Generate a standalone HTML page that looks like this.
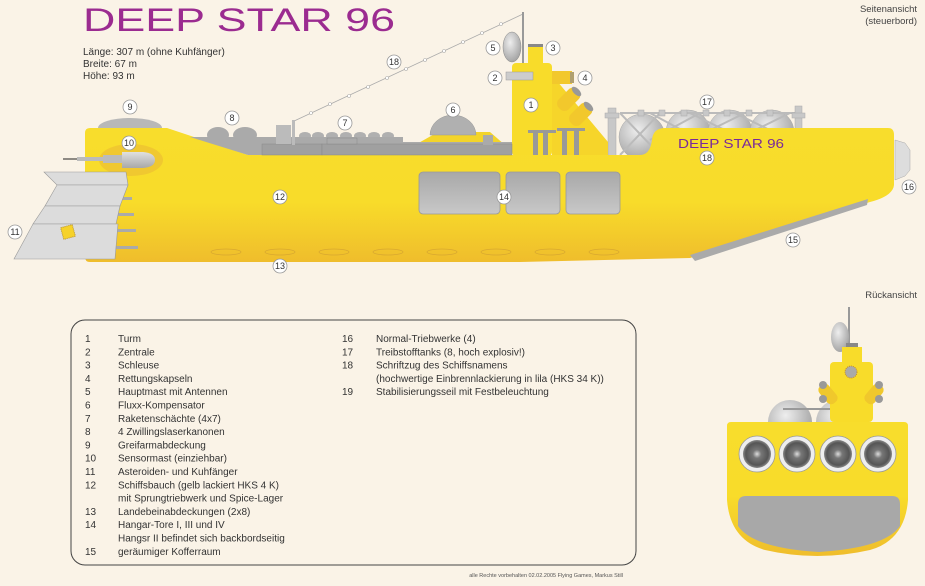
<!DOCTYPE html>
<html><head><meta charset="utf-8"><style>
html,body{margin:0;padding:0;background:#faf3e7;}
svg{display:block;font-family:"Liberation Sans",sans-serif;}
.n{fill:#fff;stroke:#999;stroke-width:0.8}
.nt{font-size:9px;fill:#333;text-anchor:middle}
.lg{font-size:10px;fill:#333}
</style></head><body>
<svg width="925" height="586" viewBox="0 0 925 586" xmlns="http://www.w3.org/2000/svg">
<defs>
<linearGradient id="hy" x1="0" y1="0" x2="0" y2="1">
<stop offset="0" stop-color="#f8dd2c"/><stop offset="0.55" stop-color="#f8dc2a"/><stop offset="1" stop-color="#efbd2c"/></linearGradient>
<linearGradient id="gd" x1="0" y1="0" x2="0" y2="1">
<stop offset="0" stop-color="#e0e0e0"/><stop offset="1" stop-color="#a8a8a8"/></linearGradient>
<radialGradient id="sp" cx="0.4" cy="0.35" r="0.7"><stop offset="0" stop-color="#eee"/><stop offset="1" stop-color="#a0a0a0"/></radialGradient>
<radialGradient id="en" cx="0.5" cy="0.5" r="0.5"><stop offset="0" stop-color="#ddd"/><stop offset="0.3" stop-color="#777"/><stop offset="0.8" stop-color="#555"/><stop offset="1" stop-color="#888"/></radialGradient>
<linearGradient id="rp" x1="0" y1="0" x2="0" y2="1"><stop offset="0" stop-color="#a8a8a8"/><stop offset="1" stop-color="#c8c8c8"/></linearGradient>
</defs>
<rect width="925" height="586" fill="#faf3e7"/>

<text x="83" y="31" font-size="32" fill="#9b2b90" textLength="312" lengthAdjust="spacingAndGlyphs">DEEP STAR 96</text>
<text x="83" y="55" font-size="10" fill="#333">Länge: 307 m (ohne Kuhfänger)</text>
<text x="83" y="67" font-size="10" fill="#333">Breite: 67 m</text>
<text x="83" y="79" font-size="10" fill="#333">Höhe: 93 m</text>
<text x="917" y="12" font-size="9.5" fill="#444" text-anchor="end">Seitenansicht</text>
<text x="917" y="24" font-size="9.5" fill="#444" text-anchor="end">(steuerbord)</text>
<text x="917" y="298" font-size="9.5" fill="#444" text-anchor="end">Rückansicht</text>

<!-- rope -->
<line x1="523" y1="14" x2="292" y2="122" stroke="#aaa" stroke-width="0.8"/>
<g fill="#fff" stroke="#aaa" stroke-width="0.6">
<circle cx="501" cy="24" r="1.5"/><circle cx="482" cy="33" r="1.5"/><circle cx="463" cy="42" r="1.5"/><circle cx="444" cy="51" r="1.5"/><circle cx="425" cy="60" r="1.5"/><circle cx="406" cy="69" r="1.5"/><circle cx="387" cy="78" r="1.5"/><circle cx="368" cy="87" r="1.5"/><circle cx="349" cy="96" r="1.5"/><circle cx="330" cy="104" r="1.5"/><circle cx="311" cy="113" r="1.5"/></g>
<line x1="523" y1="12" x2="523" y2="155" stroke="#999" stroke-width="2"/>
<!-- dish -->
<ellipse cx="512" cy="47" rx="9" ry="15" fill="url(#sp)" stroke="#888" stroke-width="0.5"/>

<!-- back-deck items -->
<ellipse cx="130" cy="128" rx="32" ry="10" fill="#b8b8b8"/>
<ellipse cx="218" cy="135" rx="11" ry="8" fill="#aaa"/><ellipse cx="245" cy="135" rx="12" ry="8" fill="#aaa"/>
<g fill="#b0b0b0"><ellipse cx="305" cy="136" rx="6" ry="4"/><ellipse cx="318" cy="136" rx="6" ry="4"/><ellipse cx="332" cy="136" rx="6" ry="4"/><ellipse cx="346" cy="136" rx="6" ry="4"/><ellipse cx="360" cy="136" rx="6" ry="4"/><ellipse cx="374" cy="136" rx="6" ry="4"/><ellipse cx="388" cy="136" rx="6" ry="4"/></g>
<path d="M415 145 L438 132 L490 132 L505 145 Z" fill="#f3d42a"/>
<path d="M430 135 A23 20 0 0 1 476 135 Z" fill="#b0b0b0" stroke="#999" stroke-width="0.5"/>
<!-- tanks -->
<g stroke="#aaa" stroke-width="0.5">
<circle cx="688" cy="132" r="22" fill="url(#sp)"/><circle cx="730" cy="132" r="22" fill="url(#sp)"/><circle cx="772" cy="132" r="22" fill="url(#sp)"/><circle cx="642" cy="137" r="23" fill="url(#sp)"/></g>
<path d="M620 113 L800 113 M620 113 L660 155 M660 113 L620 155 M650 113 L700 140 M700 113 L650 140 M690 113 L745 140 M745 113 L690 140 M735 113 L790 140 M790 113 L735 140" stroke="#bbb" stroke-width="2" fill="none"/>
<g fill="#c8c8c8" stroke="#aaa" stroke-width="0.5">
<rect x="608" y="108" width="8" height="48"/><rect x="605" y="113" width="14" height="5"/>
<rect x="795" y="106" width="7" height="30"/><rect x="792" y="113" width="13" height="5"/>
<rect x="638" y="110" width="6" height="6"/><rect x="659" y="110" width="6" height="6"/><rect x="681" y="110" width="6" height="6"/><rect x="703" y="110" width="6" height="6"/><rect x="724" y="110" width="6" height="6"/><rect x="746" y="110" width="6" height="6"/><rect x="767" y="110" width="6" height="6"/></g>

<!-- tower -->
<path d="M552 75 L608 142 L608 156 L552 156 Z" fill="#f6d52a"/>
<rect x="528" y="44" width="15" height="4" fill="#888"/>
<rect x="528" y="47" width="15" height="20" fill="#f8dc2a"/>
<rect x="512" y="63" width="40" height="93" rx="4" fill="#f8dc2a"/>
<rect x="506" y="72" width="27" height="8" fill="#ccc" stroke="#999" stroke-width="0.5"/>
<rect x="552" y="71" width="20" height="13" fill="#f2c82c"/>
<rect x="570" y="72" width="4" height="11" fill="#b0a070"/>
<g transform="rotate(-45 568 100)"><rect x="556" y="93" width="26" height="14" rx="6" fill="#f2c82c"/><ellipse cx="580" cy="100" rx="3" ry="6" fill="#999"/></g>
<g transform="rotate(-45 580 115)"><rect x="568" y="108" width="26" height="14" rx="6" fill="#f2c82c"/><ellipse cx="592" cy="115" rx="3" ry="6" fill="#999"/></g>

<!-- hull -->
<path d="M85 133 Q85 128 90 128 L167 128 L248 155 L640 155 Q650 155 652 140 Q653 128 665 128 L888 128 Q894 128 894 135 L894 185 Q893 196 870 202 L690 258 L520 262 L90 262 Q85 262 85 257 Z" fill="url(#hy)"/>
<!-- deck gray -->
<path d="M190 137 L403 137 L403 142 L512 142 L512 155 L248 155 Z" fill="#aaa"/>
<rect x="262" y="144" width="60" height="11" fill="#a0a0a0" stroke="#888" stroke-width="0.5"/>
<rect x="322" y="144" width="190" height="11" fill="#a0a0a0" stroke="#888" stroke-width="0.5"/>
<rect x="276" y="125" width="15" height="19" fill="#bbb"/><rect x="292" y="120" width="3" height="25" fill="#bbb"/>
<rect x="327" y="138" width="30" height="6" fill="#aaa" stroke="#888" stroke-width="0.5"/>
<rect x="483" y="135" width="10" height="10" fill="#aaa"/>
<rect x="528" y="130" width="28" height="3" fill="#999"/><rect x="533" y="133" width="5" height="22" fill="#999"/><rect x="543" y="133" width="5" height="22" fill="#999"/>
<rect x="557" y="128" width="28" height="3" fill="#999"/><rect x="562" y="131" width="5" height="24" fill="#999"/><rect x="574" y="131" width="5" height="24" fill="#999"/>
<!-- sensor -->
<ellipse cx="131" cy="160" rx="32" ry="16" fill="#f0c830"/>
<line x1="63" y1="159" x2="78" y2="159" stroke="#222" stroke-width="1"/>
<rect x="77" y="157" width="28" height="4" fill="#bbb"/>
<rect x="103" y="155" width="20" height="8" fill="#bbb"/>
<path d="M122 152 L143 152 Q155 153 155 160 Q155 167 143 168 L122 168 Z" fill="url(#gd)"/>
<!-- hangars -->
<g fill="url(#rp)" stroke="#999" stroke-width="0.8">
<rect x="419" y="172" width="81" height="42" rx="4"/><rect x="506" y="172" width="54" height="42" rx="4"/><rect x="566" y="172" width="54" height="42" rx="4"/></g>
<!-- landing ovals -->
<g fill="none" stroke="#d8a830" stroke-width="0.8">
<ellipse cx="226" cy="252" rx="15" ry="3"/><ellipse cx="280" cy="252" rx="15" ry="3"/><ellipse cx="334" cy="252" rx="15" ry="3"/><ellipse cx="388" cy="252" rx="15" ry="3"/><ellipse cx="442" cy="252" rx="15" ry="3"/><ellipse cx="496" cy="252" rx="15" ry="3"/><ellipse cx="550" cy="252" rx="15" ry="3"/><ellipse cx="604" cy="252" rx="15" ry="3"/></g>
<!-- cargo -->
<path d="M690 255 L868 199 L867 205 L695 261 Z" fill="#aaa"/>
<!-- nozzle -->
<path d="M895 140 L905 143 L910 150 L910 170 L905 176 L895 180 Z" fill="#ddd" stroke="#aaa" stroke-width="0.5"/>
<text x="731" y="148" font-size="13" fill="#7a2a9a" text-anchor="middle" textLength="106" lengthAdjust="spacingAndGlyphs">DEEP STAR 96</text>
<!-- cow catcher -->
<g fill="#aaa"><rect x="112" y="197" width="20" height="3"/><rect x="112" y="213" width="22" height="3"/><rect x="110" y="229" width="26" height="3"/><rect x="108" y="246" width="30" height="3"/></g>
<g fill="#dcdcdc" stroke="#999" stroke-width="0.6">
<path d="M44 172 L126 172 L128 185 L57 185 Z"/>
<path d="M57 185 L128 185 L120 206 L45 206 Z"/>
<path d="M45 206 L120 206 L116 224 L33 224 Z"/>
<path d="M33 224 L118 224 L115 259 L14 259 Z"/></g>
<rect x="62" y="226" width="12" height="12" fill="#f6d22a" stroke="#b89020" stroke-dasharray="1 1" transform="rotate(-15 68 232)"/>

<!-- number labels -->
<g>
<circle class="n" cx="130" cy="107" r="7"/><text class="nt" x="130" y="110">9</text>
<circle class="n" cx="232" cy="118" r="7"/><text class="nt" x="232" y="121">8</text>
<circle class="n" cx="345" cy="123" r="7"/><text class="nt" x="345" y="126">7</text>
<circle class="n" cx="453" cy="110" r="7"/><text class="nt" x="453" y="113">6</text>
<circle class="n" cx="129" cy="143" r="7"/><text class="nt" x="129" y="146">10</text>
<circle class="n" cx="280" cy="197" r="7"/><text class="nt" x="280" y="200">12</text>
<circle class="n" cx="15" cy="232" r="7"/><text class="nt" x="15" y="235">11</text>
<circle class="n" cx="280" cy="266" r="7"/><text class="nt" x="280" y="269">13</text>
<circle class="n" cx="394" cy="62" r="7"/><text class="nt" x="394" y="65">18</text>
<circle class="n" cx="493" cy="48" r="7"/><text class="nt" x="493" y="51">5</text>
<circle class="n" cx="553" cy="48" r="7"/><text class="nt" x="553" y="51">3</text>
<circle class="n" cx="495" cy="78" r="7"/><text class="nt" x="495" y="81">2</text>
<circle class="n" cx="585" cy="78" r="7"/><text class="nt" x="585" y="81">4</text>
<circle class="n" cx="531" cy="105" r="7"/><text class="nt" x="531" y="108">1</text>
<circle class="n" cx="707" cy="102" r="7"/><text class="nt" x="707" y="105">17</text>
<circle class="n" cx="707" cy="158" r="7"/><text class="nt" x="707" y="161">18</text>
<circle class="n" cx="504" cy="197" r="7"/><text class="nt" x="504" y="200">14</text>
<circle class="n" cx="909" cy="187" r="7"/><text class="nt" x="909" y="190">16</text>
<circle class="n" cx="793" cy="240" r="7"/><text class="nt" x="793" y="243">15</text>
</g>

<!-- rear view -->
<line x1="849" y1="307" x2="849" y2="350" stroke="#999" stroke-width="2"/>
<ellipse cx="840" cy="337" rx="9" ry="15" fill="url(#sp)"/>
<circle cx="790" cy="422" r="22" fill="url(#sp)"/><circle cx="838" cy="422" r="22" fill="url(#sp)"/>
<rect x="783" y="408" width="50" height="2" fill="#999"/>
<rect x="846" y="343" width="12" height="4" fill="#888"/>
<rect x="842" y="347" width="20" height="20" fill="#f8dc2a"/>
<rect x="830" y="362" width="43" height="60" rx="4" fill="#f8dc2a"/>
<circle cx="851" cy="372" r="6" fill="#aaa" stroke="#c89020" stroke-dasharray="1 1"/>
<rect x="822" y="383" width="12" height="22" rx="5" fill="#f0c82c" transform="rotate(-40 828 394)"/>
<rect x="868" y="383" width="12" height="22" rx="5" fill="#f0c82c" transform="rotate(40 874 394)"/>
<circle cx="823" cy="385" r="4" fill="#999"/><circle cx="823" cy="399" r="4" fill="#999"/>
<circle cx="879" cy="385" r="4" fill="#999"/><circle cx="879" cy="399" r="4" fill="#999"/>
<path d="M727 426 Q727 422 731 422 L904 422 Q908 422 908 426 L908 500 Q905 540 870 550 Q817 562 765 550 Q730 540 727 500 Z" fill="url(#hy)"/>
<path d="M738 504 Q738 496 746 496 L892 496 Q900 496 900 504 L900 526 Q885 548 819 552 Q753 548 738 526 Z" fill="#a8a8a8"/>
<g stroke="#999" stroke-width="0.8">
<circle cx="757" cy="454" r="18" fill="#eee"/><circle cx="797" cy="454" r="18" fill="#eee"/><circle cx="838" cy="454" r="18" fill="#eee"/><circle cx="878" cy="454" r="18" fill="#eee"/></g>
<g><circle cx="757" cy="454" r="14" fill="url(#en)"/><circle cx="797" cy="454" r="14" fill="url(#en)"/><circle cx="838" cy="454" r="14" fill="url(#en)"/><circle cx="878" cy="454" r="14" fill="url(#en)"/></g>

<!-- legend -->
<rect x="71" y="320" width="565" height="245" rx="14" fill="none" stroke="#444" stroke-width="1"/>
<g class="lg">
<text x="85" y="342">1</text><text x="118" y="342">Turm</text>
<text x="85" y="355.3">2</text><text x="118" y="355.3">Zentrale</text>
<text x="85" y="368.6">3</text><text x="118" y="368.6">Schleuse</text>
<text x="85" y="381.9">4</text><text x="118" y="381.9">Rettungskapseln</text>
<text x="85" y="395.2">5</text><text x="118" y="395.2">Hauptmast mit Antennen</text>
<text x="85" y="408.5">6</text><text x="118" y="408.5">Fluxx-Kompensator</text>
<text x="85" y="421.8">7</text><text x="118" y="421.8">Raketenschächte (4x7)</text>
<text x="85" y="435.1">8</text><text x="118" y="435.1">4 Zwillingslaserkanonen</text>
<text x="85" y="448.4">9</text><text x="118" y="448.4">Greifarmabdeckung</text>
<text x="85" y="461.7">10</text><text x="118" y="461.7">Sensormast (einziehbar)</text>
<text x="85" y="475">11</text><text x="118" y="475">Asteroiden- und Kuhfänger</text>
<text x="85" y="488.3">12</text><text x="118" y="488.3">Schiffsbauch (gelb lackiert HKS 4 K)</text>
<text x="118" y="501.6">mit Sprungtriebwerk und Spice-Lager</text>
<text x="85" y="514.9">13</text><text x="118" y="514.9">Landebeinabdeckungen (2x8)</text>
<text x="85" y="528.2">14</text><text x="118" y="528.2">Hangar-Tore I, III und IV</text>
<text x="118" y="541.5">Hangsr II befindet sich backbordseitig</text>
<text x="85" y="554.8">15</text><text x="118" y="554.8">geräumiger Kofferraum</text>
<text x="342" y="342">16</text><text x="376" y="342">Normal-Triebwerke (4)</text>
<text x="342" y="355.3">17</text><text x="376" y="355.3">Treibstofftanks (8, hoch explosiv!)</text>
<text x="342" y="368.6">18</text><text x="376" y="368.6">Schriftzug des Schiffsnamens</text>
<text x="376" y="381.9">(hochwertige Einbrennlackierung in lila (HKS 34 K))</text>
<text x="342" y="395.2">19</text><text x="376" y="395.2">Stabilisierungsseil mit Festbeleuchtung</text>
</g>
<text x="623" y="577" font-size="5.5" fill="#555" text-anchor="end">alle Rechte vorbehalten 02.02.2005 Flying Games, Markus Still</text>
</svg>
</body></html>
